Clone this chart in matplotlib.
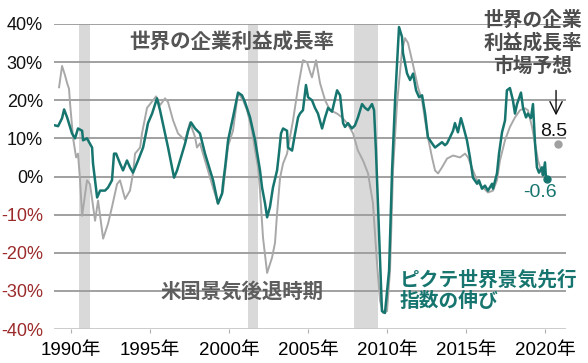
import matplotlib
matplotlib.use("Agg")
import matplotlib.pyplot as plt
import numpy as np

# ---- data ----
profit_years = [1989.24, 1989.43, 1989.62, 1989.75, 1989.87, 1989.94, 1990.13, 1990.32, 1990.44, 1990.57,
                1990.70, 1991.01, 1991.20, 1991.52, 1991.71, 1992.03, 1992.34, 1992.59, 1992.91, 1993.10,
                1993.42, 1993.73, 1993.92, 1994.05, 1994.37, 1994.49, 1994.81, 1995.00, 1995.38, 1995.63,
                1995.95, 1996.14, 1996.46, 1996.77, 1997.09, 1997.22, 1997.53, 1997.85, 1997.97, 1998.16,
                1998.48, 1998.80, 1998.99, 1999.30, 1999.62, 1999.94, 2000.25, 2000.57, 2000.89, 2001.14,
                2001.46, 2001.65, 2001.84, 2001.96, 2002.15, 2002.41, 2002.72, 2002.91, 2003.04, 2003.23,
                2003.42, 2003.67, 2004.05, 2004.37, 2004.68, 2004.94, 2005.13, 2005.25, 2005.51, 2005.76,
                2006.08, 2006.39, 2006.84, 2007.15, 2007.47, 2007.85, 2008.16, 2008.48, 2008.80, 2009.11,
                2009.37, 2009.56, 2009.75, 2010.00, 2010.19, 2010.32, 2010.38, 2010.63, 2010.95, 2011.14,
                2011.33, 2011.58, 2011.77, 2011.96, 2012.22, 2012.41, 2012.59, 2012.85, 2013.04, 2013.23,
                2013.48, 2013.80, 2014.18, 2014.62, 2014.94, 2015.13, 2015.44, 2015.76, 2016.08, 2016.39,
                2016.71, 2016.96, 2017.15, 2017.47, 2017.78, 2018.10, 2018.42, 2018.73, 2018.92, 2019.18,
                2019.37, 2019.56, 2019.81, 2020.05]
profit_growth = [23.4, 29.0, 26.5, 24.5, 23.0, 19.0, 10.0, 5.0, 6.0, -1.0,
                 -10.3, -1.0, -2.0, -11.6, -6.3, -16.3, -12.4, -8.0, -2.0, -1.0,
                 -5.9, -3.7, 0.8, 6.0, 7.6, 11.3, 18.0, 19.0, 21.0, 18.7,
                 20.5, 19.5, 14.7, 11.3, 10.0, 9.5, 14.2, 10.3, 7.6, 8.7,
                 4.2, -0.3, -3.0, -7.1, -3.7, 8.0, 12.0, 22.0, 20.0, 17.4,
                 12.0, 6.8, 2.4, -3.7, -16.0, -25.3, -21.3, -17.4, -9.7, -0.3,
                 3.4, 6.0, 14.7, 23.4, 30.5, 30.0, 27.4, 26.0, 30.5, 24.5,
                 20.0, 17.4, 16.5, 15.5, 14.0, 11.3, 6.8, 4.2, 0.8, -7.0,
                 -23.0, -32.6, -35.8, -35.3, -24.7, -7.0, 1.6, 19.0, 33.0, 36.3,
                 35.0, 30.5, 27.0, 23.4, 20.0, 14.7, 10.3, 5.0, 1.6, 0.8,
                 2.4, 4.7, 5.5, 5.0, 6.0, 5.0, 1.6, -1.6, -2.9, -4.2,
                 -3.7, -1.0, 4.2, 9.5, 13.0, 15.5, 17.4, 17.9, 17.4, 13.0,
                 8.7, 4.2, 0.8, -0.5]

pictet_years = [1988.99, 1989.18, 1989.43, 1989.56, 1989.75, 1989.81, 1990.06, 1990.25, 1990.44, 1990.70,
                1990.76, 1991.01, 1991.14, 1991.33, 1991.39, 1991.52, 1991.65, 1991.84, 1992.15, 1992.34,
                1992.59, 1992.72, 1992.85, 1993.10, 1993.29, 1993.54, 1993.73, 1993.92, 1994.24, 1994.56,
                1994.87, 1995.13, 1995.44, 1995.63, 1995.95, 1996.14, 1996.52, 1996.71, 1997.03, 1997.22,
                1997.41, 1997.59, 1997.85, 1998.16, 1998.48, 1998.80, 1998.99, 1999.30, 1999.56, 1999.62,
                1999.75, 1999.94, 2000.25, 2000.57, 2000.82, 2001.01, 2001.33, 2001.65, 2001.96, 2002.09,
                2002.28, 2002.41, 2002.59, 2002.78, 2003.04, 2003.16, 2003.29, 2003.42, 2003.67, 2003.73,
                2003.99, 2004.18, 2004.37, 2004.49, 2004.68, 2004.87, 2005.00, 2005.25, 2005.44, 2005.63,
                2005.89, 2006.08, 2006.27, 2006.52, 2006.84, 2007.03, 2007.22, 2007.34, 2007.53, 2007.78,
                2007.97, 2008.16, 2008.42, 2008.61, 2008.80, 2009.05, 2009.18, 2009.30, 2009.37, 2009.68,
                2009.87, 2010.13, 2010.32, 2010.51, 2010.76, 2010.95, 2011.01, 2011.27, 2011.46, 2011.65,
                2011.84, 2012.03, 2012.22, 2012.41, 2012.59, 2012.85, 2013.04, 2013.23, 2013.48, 2013.67,
                2013.80, 2013.99, 2014.18, 2014.30, 2014.49, 2014.68, 2014.81, 2015.06, 2015.25, 2015.44,
                2015.70, 2015.82, 2016.01, 2016.20, 2016.39, 2016.65, 2016.71, 2016.96, 2017.09, 2017.28,
                2017.47, 2017.59, 2017.78, 2017.97, 2018.10, 2018.23, 2018.48, 2018.61, 2018.80, 2018.92,
                2019.11, 2019.24, 2019.37, 2019.49, 2019.62, 2019.81, 2019.87, 2020.00, 2020.06, 2020.13]
pictet_growth = [13.4, 13.2, 15.3, 17.6, 15.5, 14.7, 11.3, 10.0, 12.6, 12.0,
                 9.5, 10.0, 9.0, 7.6, 3.4, -1.0, -5.5, -3.7, -3.7, -2.9,
                 -1.0, 6.0, 6.0, 3.4, 1.6, 4.2, 2.4, 1.0, 4.2, 7.6,
                 14.0, 16.5, 20.5, 17.4, 11.3, 7.6, -0.3, 1.6, 6.0, 8.7,
                 12.0, 14.2, 12.6, 11.3, 6.0, 1.6, -1.0, -7.1, -4.5, -1.9,
                 2.4, 9.5, 15.5, 22.0, 21.3, 19.5, 15.5, 9.5, 1.6, -2.9,
                 -7.1, -10.7, -8.0, -2.9, 1.6, 6.0, 11.3, 12.6, 12.0, 7.6,
                 6.8, 11.3, 15.5, 16.5, 17.4, 24.0, 20.8, 20.0, 18.0, 16.5,
                 12.6, 15.5, 18.0, 17.0, 22.6, 21.3, 14.0, 13.0, 14.0, 12.6,
                 13.4, 15.5, 19.0, 18.0, 17.4, 19.0, 17.4, 6.8, -1.0, -35.3,
                 -35.8, -24.7, 1.6, 20.0, 39.2, 36.6, 32.4, 27.0, 25.3, 27.0,
                 22.6, 20.8, 21.3, 16.5, 10.3, 8.7, 7.6, 8.2, 9.0, 8.2,
                 8.7, 10.3, 12.0, 14.0, 11.6, 15.3, 13.4, 9.5, 5.0, -0.3,
                 -1.9, -1.0, -3.2, -2.4, -3.7, -1.9, -3.2, 0.8, 6.0, 11.6,
                 14.7, 22.6, 23.2, 20.0, 16.5, 19.0, 22.0, 18.0, 15.5, 16.5,
                 15.3, 19.0, 8.7, 2.4, 1.0, 2.4, 0.3, 3.7, -0.3, -0.6]

forecast_year = 2020.82
forecast_value = 8.5

recessions = [(1990.5, 1991.17), (2001.17, 2001.83), (2007.92, 2009.42)]

year_ticks = [1990, 1995, 2000, 2005, 2010, 2015, 2020]
year_labels = ["1990年", "1995年", "2000年", "2005年", "2010年", "2015年", "2020年"]
pct_ticks = [40, 30, 20, 10, 0, -10, -20, -30, -40]
pct_labels = ["40%", "30%", "20%", "10%", "0%", "-10%", "-20%", "-30%", "-40%"]

TEAL = "#17756f"
GREY = "#a8a8a8"
JP = ["Noto Sans CJK JP", "DejaVu Sans"]
NUM = ["Liberation Sans", "Noto Sans CJK JP", "DejaVu Sans"]

fig = plt.figure(figsize=(5.88, 3.63), dpi=100)
ax = fig.add_axes([54 / 588, 1 - 329 / 363, 512 / 588, 305 / 363])
ax.set_xlim(1988.92, 2021.33)
ax.set_ylim(-40, 40)

for a, b in recessions:
    ax.axvspan(a, b, color="#d9d9d9", lw=0, zorder=0)

for t in pct_ticks:
    if t == -40:
        continue
    ax.axhline(t, color="#9a9a9a", lw=1.3, zorder=1)
ax.axhline(-40, color="#c8c8c8", lw=2.0, zorder=1)

ax.plot(profit_years, profit_growth, color=GREY, lw=1.4, zorder=3)
ax.plot(pictet_years, pictet_growth, color=TEAL, lw=1.8, zorder=4)
ax.plot([pictet_years[-1]], [pictet_growth[-1]], "o", color=TEAL, ms=5, zorder=5)
ax.plot([forecast_year], [forecast_value], "o", color="#a0a0a0", ms=5, zorder=5)

for s in ax.spines.values():
    s.set_visible(False)

ax.set_xticks(year_ticks)
ax.set_xticklabels(year_labels, fontfamily=NUM, fontsize=13.5)
ax.tick_params(axis="x", length=3, color="#b0b0b0", pad=6)
ax.set_yticks(pct_ticks)
ax.set_yticklabels(pct_labels, fontfamily=NUM, fontsize=13)
ax.tick_params(axis="y", length=0, pad=8)
for lab, t in zip(ax.get_yticklabels(), pct_ticks):
    lab.set_color("#9b2a2a" if t < 0 else "#111111")

# annotations
ax.text(2000.19, 35.2, "世界の企業利益成長率", fontfamily=JP, fontsize=14.8, fontweight="bold",
        color="#555555", ha="center", va="center", zorder=6)
ax.text(2000.82, -30.0, "米国景気後退時期", fontfamily=JP, fontsize=14.7, fontweight="bold",
        color="#5e5e5e", ha="center", va="center", zorder=6)
ax.text(2010.8, -30.0, "ピクテ世界景気先行\n指数の伸び", fontfamily=JP, fontsize=14.2, fontweight="bold",
        color=TEAL, ha="left", va="center", linespacing=1.15, zorder=6)
ax.text(2019.24, 35.0, "世界の企業\n利益成長率\n市場予想", fontfamily=JP, fontsize=14.2, fontweight="bold",
        color="#4d4d4d", ha="center", va="center", linespacing=1.25, clip_on=False, zorder=6)
ax.annotate("", xy=(2020.7, 15.3), xytext=(2020.7, 23.3),
            arrowprops=dict(arrowstyle="->", color="#111111", lw=1.0, mutation_scale=22))
ax.text(2020.55, 11.8, "8.5", fontfamily=NUM, fontsize=14, color="#111111", ha="center", va="center")
ax.text(2019.68, -4.2, "-0.6", fontfamily=NUM, fontsize=14, color=TEAL, ha="center", va="center")

fig.savefig("out.png", dpi=100)
